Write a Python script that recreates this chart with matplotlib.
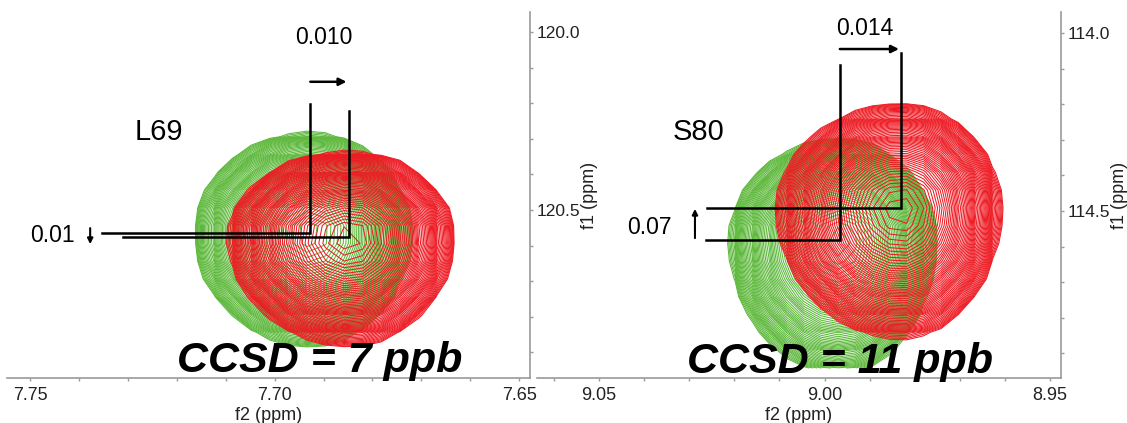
#!/usr/bin/env python3

'''
plot.py

Overlay of two HSQC peaks (green / red) for L69 and S80, with the
chemical shift differences marked.
'''

import numpy as np
import matplotlib
matplotlib.use('Agg')
import matplotlib.pyplot as plt
from matplotlib.ticker import MultipleLocator, FormatStrFormatter

plt.rcParams['font.family'] = ['Liberation Sans', 'DejaVu Sans']

GREEN = '#5cb83a'
RED = '#ee1b24'
SPINE = '#9a9a9a'

# contour levels, relative to the peak height (geometric spacing)
LEVEL_LO, LEVEL_HI, N_LEVELS = 0.02, 0.93, 60

# --- L69 ---
L69_XLIM = (7.7547, 7.6478)
L69_YLIM = (120.972, 119.944)
L69_F2 = [7.6927, 7.6848]            # green, red peak position (ppm)
L69_F1 = [120.565, 120.576]
L69_W2 = [(0.0235, 0.0204), (0.0247, 0.0213)]   # outer extent left/right
L69_W1 = [(0.281, 0.315), (0.239, 0.303)]       # outer extent up/down
L69_LINE_TOP = [120.202, 120.222]
L69_LINE_END = [7.7353, 7.7310]
L69_ARROW_Y = 120.140
L69_VARROW = (7.7377, 120.551, 120.596)
L69_DX, L69_DY = '0.010', '0.01'
L69_DX_POS = (7.6899, 120.017)
L69_DY_POS = (7.7408, 120.573)
L69_NAME_POS = (7.7236, 120.281)
L69_CCSD = 'CCSD = 7 ppb'
L69_CCSD_POS = (7.6907, 120.955)

# --- S80 ---
S80_XLIM = (9.0637, 8.9476)
S80_YLIM = (114.969, 113.941)
S80_F2 = [8.9966, 8.9830]
S80_F1 = [114.581, 114.492]
S80_W2 = [(0.0244, 0.0211), (0.0275, 0.0220)]
S80_W1 = [(0.281, 0.375), (0.289, 0.365)]
S80_LINE_TOP = [114.090, 114.056]
S80_LINE_END = [9.0263, 9.0261]
S80_ARROW_Y = 114.045
S80_VARROW = (9.0287, 114.576, 114.494)
S80_DX, S80_DY = '0.014', '0.07'
S80_DX_POS = (8.9910, 113.986)
S80_DY_POS = (9.0387, 114.545)
S80_NAME_POS = (9.0280, 114.278)
S80_CCSD = 'CCSD = 11 ppb'
S80_CCSD_POS = (8.9966, 114.955)


def peak(X, Y, x0, y0, w2, w1):
    k = np.sqrt(2 * np.log(1 / LEVEL_LO))
    sx = np.where(X > x0, w2[0], w2[1]) / k
    sy = np.where(Y < y0, w1[0], w1[1]) / k
    return np.exp(-0.5 * ((X - x0) / sx) ** 2 - 0.5 * ((Y - y0) / sy) ** 2)


def draw_panel(ax, xlim, ylim, f2, f1, w2, w1, line_top, line_end, arrow_y,
               varrow, dx, dy, dx_pos, dy_pos, name, name_pos, ccsd, ccsd_pos,
               dy_ha='right'):
    xs = np.arange(xlim[1], xlim[0], 0.0038)
    ys = np.arange(ylim[1], ylim[0], 0.05)
    X, Y = np.meshgrid(xs, ys)
    levels = np.geomspace(LEVEL_LO, LEVEL_HI, N_LEVELS)
    for i, col in enumerate([GREEN, RED]):
        Z = peak(X, Y, f2[i], f1[i], w2[i], w1[i])
        ax.contour(X, Y, Z, levels=levels, colors=col, linewidths=0.75)

    for i in range(2):
        ax.plot([f2[i], f2[i], line_end[i]], [line_top[i], f1[i], f1[i]],
                color='k', lw=1.8, solid_joinstyle='miter')

    ax.annotate('', xy=(f2[1] + 0.0005, arrow_y), xytext=(f2[0], arrow_y),
                arrowprops=dict(arrowstyle='-|>', color='k', lw=1.8,
                                mutation_scale=11, shrinkA=0, shrinkB=0))
    ax.annotate('', xy=(varrow[0], varrow[2]), xytext=(varrow[0], varrow[1]),
                arrowprops=dict(arrowstyle='-|>', color='k', lw=1.5,
                                mutation_scale=8, shrinkA=0, shrinkB=0))

    ax.text(*dx_pos, dx, fontsize=16.5, ha='center', va='center')
    ax.text(*dy_pos, dy, fontsize=16.5, ha=dy_ha, va='center')
    ax.text(*name_pos, name, fontsize=21, ha='center', va='center')
    ax.text(*ccsd_pos, ccsd, fontsize=31, fontweight='bold',
            fontstyle='italic', ha='center', va='baseline')

    ax.set_xlim(*xlim)
    ax.set_ylim(*ylim)
    ax.patch.set_visible(False)
    for s in ('top', 'left'):
        ax.spines[s].set_visible(False)
    for s in ('bottom', 'right'):
        ax.spines[s].set_color(SPINE)
        ax.spines[s].set_linewidth(1.2)

    ax.yaxis.tick_right()
    ax.yaxis.set_label_position('right')
    ax.xaxis.set_major_locator(MultipleLocator(0.05))
    ax.xaxis.set_minor_locator(MultipleLocator(0.01))
    ax.yaxis.set_major_locator(MultipleLocator(0.5))
    ax.yaxis.set_minor_locator(MultipleLocator(0.1))
    ax.xaxis.set_major_formatter(FormatStrFormatter('%.2f'))
    ax.yaxis.set_major_formatter(FormatStrFormatter('%.1f'))
    ax.tick_params(which='both', colors=SPINE, labelcolor='#222222',
                   length=2.5, width=1)
    ax.tick_params(axis='x', labelsize=13, pad=4)
    ax.tick_params(axis='y', labelsize=12.5, pad=2)
    ax.set_xlabel('f2 (ppm)', fontsize=13, labelpad=2, color='#222222')
    ax.set_ylabel('f1 (ppm)', fontsize=13, labelpad=1, color='#222222')


def main():
    fig = plt.figure(figsize=(11.27, 4.23), dpi=100)
    ax1 = fig.add_axes([7 / 1127, 45 / 423, 523 / 1127, 366 / 423])
    ax2 = fig.add_axes([537 / 1127, 45 / 423, 524 / 1127, 366 / 423])

    draw_panel(ax1, L69_XLIM, L69_YLIM, L69_F2, L69_F1, L69_W2, L69_W1,
               L69_LINE_TOP, L69_LINE_END, L69_ARROW_Y, L69_VARROW,
               L69_DX, L69_DY, L69_DX_POS, L69_DY_POS, 'L69', L69_NAME_POS,
               L69_CCSD, L69_CCSD_POS)
    draw_panel(ax2, S80_XLIM, S80_YLIM, S80_F2, S80_F1, S80_W2, S80_W1,
               S80_LINE_TOP, S80_LINE_END, S80_ARROW_Y, S80_VARROW,
               S80_DX, S80_DY, S80_DX_POS, S80_DY_POS, 'S80', S80_NAME_POS,
               S80_CCSD, S80_CCSD_POS, dy_ha='center')

    fig.savefig('out.png', dpi=100)


if __name__ == '__main__':
    main()
